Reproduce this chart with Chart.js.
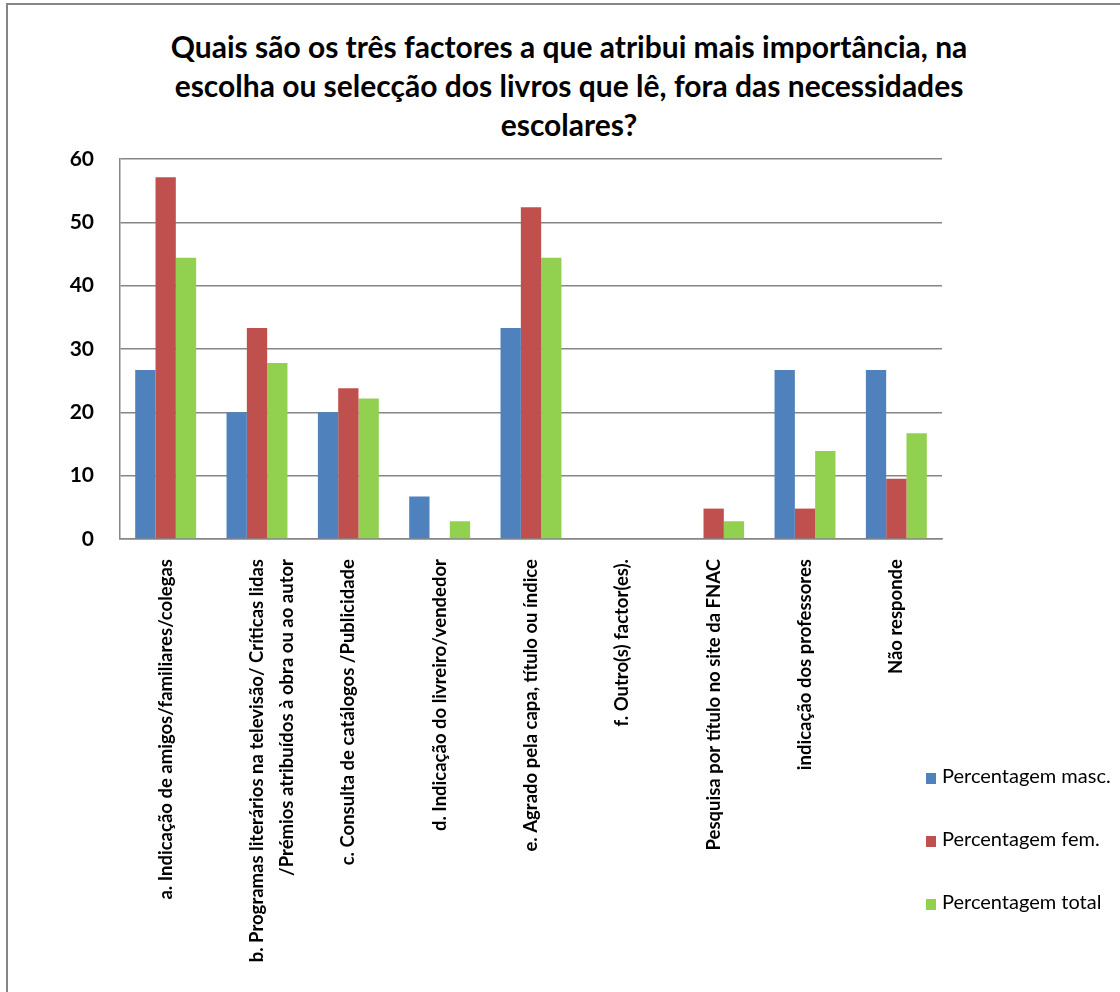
<!DOCTYPE html>
<html lang="pt">
<head>
<meta charset="utf-8">
<title>Factores na escolha dos livros</title>
<script src="https://cdn.jsdelivr.net/npm/chart.js@4.4.0/dist/chart.umd.min.js"></script>
<style>
  html, body { margin: 0; padding: 0; background: #fff; overflow: hidden; }
  #wrap { position: relative; width: 1120px; height: 992px; overflow: hidden; }
  #frame { position: absolute; left: 6px; top: 3px; width: 1200px; height: 1100px; border: 2px solid #868686; }
  #title { position: absolute; left: 0; top: 27px; width: 1138px; text-align: center;
           font: bold 30px Lato, "Open Sans", sans-serif; line-height: 39px; color: #000; }
  #chart { position: absolute; left: 0; top: 0; }
  .leg { position: absolute; left: 926px; height: 24px; line-height: 24px; white-space: nowrap;
         font: 20px Lato, "Open Sans", sans-serif; color: #000; }
  .leg span { display: inline-block; width: 10px; height: 11px; margin-right: 6px; vertical-align: -1px; }
</style>
</head>
<body>
<div id="wrap">
  <div id="frame"></div>
  <div id="title">Quais são os três factores a que atribui mais importância, na<br>escolha ou selecção dos livros que lê, fora das necessidades<br>escolares?</div>
  <canvas id="chart" width="1120" height="992"></canvas>
  <div id="legend"></div>
</div>
<script>
const categories = [
    "a. Indicação de amigos/familiares/colegas",
    ["b. Programas literários na televisão/ Críticas lidas", "/Prémios atribuídos à obra ou ao autor"],
    "c. Consulta de catálogos /Publicidade",
    "d. Indicação do livreiro/vendedor",
    "e. Agrado pela capa, título ou índice",
    "f. Outro(s) factor(es).",
    "Pesquisa por título no site da FNAC",
    "indicação dos professores",
    "Não responde"
];
const seriesNames = ["Percentagem masc.", "Percentagem fem.", "Percentagem total"];
const masc = [26.7, 20.0, 20.0, 6.7, 33.3, 0, 0, 26.7, 26.7];
const fem = [57.1, 33.3, 23.8, 0, 52.4, 0, 4.8, 4.8, 9.5];
const total = [44.4, 27.8, 22.2, 2.8, 44.4, 0, 2.8, 13.9, 16.7];
const yTicks = [0, 10, 20, 30, 40, 50, 60];

const colors = {
    masc: "#4F81BD",
    fem: "#C0504D",
    total: "#92D050",
    grid: "#868686"
};

Chart.defaults.font.family = "Lato, 'Open Sans', sans-serif";
Chart.defaults.color = "#000";

const seriesColors = [colors.masc, colors.fem, colors.total];
const seriesData = [masc, fem, total];

const ctx = document.getElementById("chart");
new Chart(ctx, {
    type: "bar",
    data: {
        labels: categories,
        datasets: seriesNames.map((name, i) => ({
            label: name,
            data: seriesData[i],
            backgroundColor: seriesColors[i],
            borderWidth: 0,
            categoryPercentage: 0.667,
            barPercentage: 1.0
        }))
    },
    options: {
        responsive: false,
        animation: false,
        devicePixelRatio: 1,
        layout: { padding: { top: 159, right: 178, left: 0, bottom: 0 } },
        plugins: {
            legend: { display: false },
            title: { display: false },
            tooltip: { enabled: false }
        },
        scales: {
            x: {
                grid: { display: false },
                border: { display: true, color: colors.grid, width: 1.5 },
                ticks: {
                    autoSkip: false,
                    minRotation: 90,
                    maxRotation: 90,
                    padding: 12,
                    font: { size: 18.5, weight: "bold", lineHeight: "30px" }
                },
                afterFit: (scale) => { scale.height = 453; }
            },
            y: {
                min: yTicks[0],
                max: yTicks[yTicks.length - 1],
                afterBuildTicks: (scale) => { scale.ticks = yTicks.map(v => ({ value: v })); },
                grid: { color: colors.grid, lineWidth: 1.5, drawTicks: false },
                border: { display: true, color: colors.grid, width: 1.5 },
                ticks: {
                    padding: 26,
                    font: { size: 21, weight: "bold" }
                },
                afterFit: (scale) => { scale.width = 120; }
            }
        }
    }
});

// legend on the right, below the plot
const legendTops = [763, 826, 889];
const legend = document.getElementById("legend");
seriesNames.forEach((name, i) => {
    const item = document.createElement("div");
    item.className = "leg";
    item.style.top = legendTops[i] + "px";
    item.innerHTML = '<span style="background:' + seriesColors[i] + '"></span>' + name;
    legend.appendChild(item);
});
</script>
</body>
</html>
